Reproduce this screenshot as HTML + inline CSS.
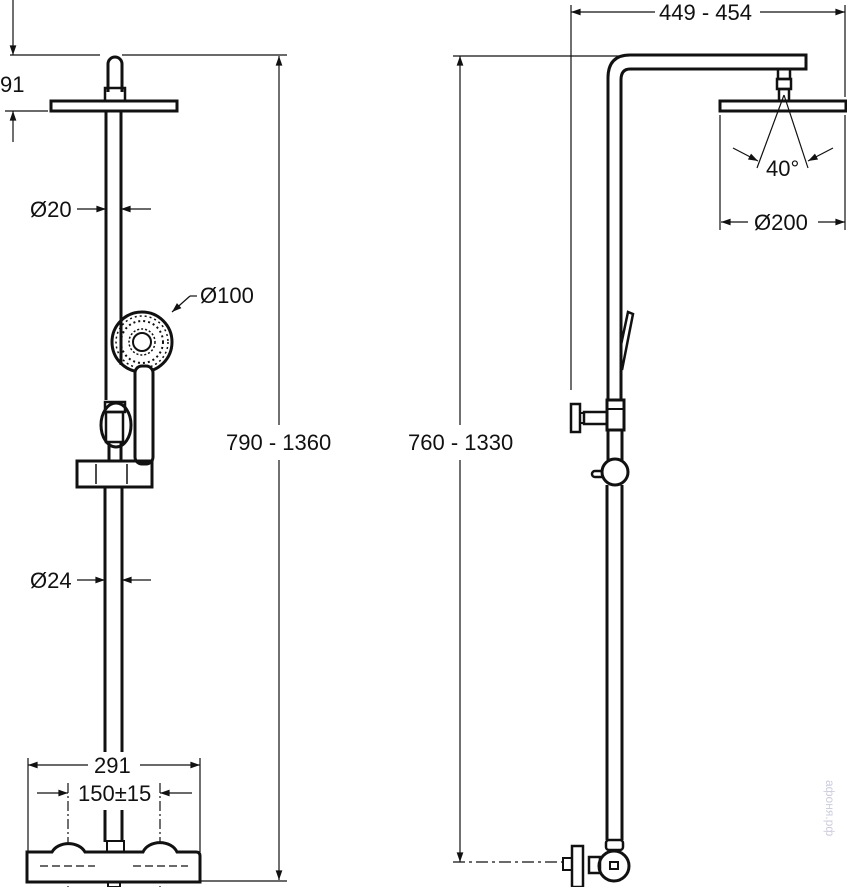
<!DOCTYPE html>
<html><head><meta charset="utf-8"><style>
html,body{margin:0;padding:0;background:#fff}
svg{display:block}
text{font-family:"Liberation Sans",Arial,sans-serif;font-size:22px;fill:#111}
</style></head><body>
<svg width="847" height="887" viewBox="0 0 847 887" xmlns="http://www.w3.org/2000/svg">
<defs>
<marker id="a" viewBox="0 0 10 10" refX="10" refY="5" markerWidth="11" markerHeight="8" orient="auto-start-reverse"><path d="M0,1.5 L10,5 L0,8.5 z" fill="#111"/></marker>
</defs>
<g stroke="#111" fill="none">
<line x1="10" y1="55" x2="100" y2="55" stroke-width="1.2"/>
<line x1="5" y1="111" x2="48" y2="111" stroke-width="1.2"/>
<line x1="13" y1="25" x2="13" y2="55" stroke-width="1.2" marker-end="url(#a)"/>
<line x1="13" y1="142" x2="13" y2="111" stroke-width="1.2" marker-end="url(#a)"/>
<line x1="13" y1="0" x2="13" y2="25" stroke-width="1.2"/>
<line x1="122" y1="55" x2="287" y2="55" stroke-width="1.2"/>
<line x1="279" y1="425" x2="279" y2="56" stroke-width="1.2" marker-end="url(#a)"/>
<line x1="279" y1="460" x2="279" y2="880" stroke-width="1.2" marker-end="url(#a)"/>
<line x1="128" y1="881" x2="287" y2="881" stroke-width="1.2"/>
<path d="M108,92 L108,64 A7,7 0 0 1 122,64 L122,92" stroke-width="3"/>
<rect x="105" y="88" width="20" height="13" stroke-width="2.5"/>
<rect x="51" y="101" width="126" height="10" stroke-width="3"/>
<line x1="106" y1="112" x2="106" y2="400" stroke-width="3"/>
<line x1="121" y1="112" x2="121" y2="365" stroke-width="3"/>
<line x1="77" y1="209" x2="106" y2="209" stroke-width="1.2" marker-end="url(#a)"/>
<line x1="151" y1="209" x2="121" y2="209" stroke-width="1.2" marker-end="url(#a)"/>
<circle cx="142" cy="342" r="30" stroke-width="3"/>
<circle cx="142" cy="342" r="9" stroke-width="2"/>
<circle cx="142" cy="342" r="13" stroke-width="1.5" stroke-dasharray="2 2"/>
<circle cx="142" cy="342" r="21" stroke-width="2" stroke-dasharray="2 3"/>
<circle cx="142" cy="342" r="26" stroke-width="1.5" stroke-dasharray="2 3"/>
<rect x="135" y="366" width="18" height="98" rx="7" stroke-width="3" fill="#fff"/>
<line x1="172" y1="312" x2="190" y2="296" stroke-width="1.2" marker-start="url(#a)"/>
<line x1="190" y1="296" x2="197" y2="296" stroke-width="1.2"/>
<ellipse cx="116" cy="425" rx="15" ry="22" stroke-width="3" fill="#fff"/>
<rect x="105" y="402" width="20" height="10" stroke-width="2.5"/>
<rect x="106" y="412" width="17" height="30" stroke-width="2.5"/>
<line x1="109" y1="442" x2="109" y2="462" stroke-width="3"/>
<line x1="121" y1="442" x2="121" y2="462" stroke-width="3"/>
<path d="M77,461 L152,461 L152,487 L77,487 Z" stroke-width="3"/>
<line x1="96" y1="464" x2="96" y2="484" stroke-width="1.5"/>
<line x1="127" y1="464" x2="127" y2="484" stroke-width="1.5"/>
<line x1="105" y1="488" x2="105" y2="752" stroke-width="3"/>
<line x1="122" y1="488" x2="122" y2="752" stroke-width="3"/>
<line x1="105" y1="810" x2="105" y2="842" stroke-width="3"/>
<line x1="122" y1="810" x2="122" y2="842" stroke-width="3"/>
<line x1="77" y1="580" x2="105" y2="580" stroke-width="1.2" marker-end="url(#a)"/>
<line x1="151" y1="580" x2="122" y2="580" stroke-width="1.2" marker-end="url(#a)"/>
<line x1="28" y1="758" x2="28" y2="852" stroke-width="1.2"/>
<line x1="200" y1="758" x2="200" y2="852" stroke-width="1.2"/>
<line x1="88" y1="765" x2="28" y2="765" stroke-width="1.2" marker-end="url(#a)"/>
<line x1="140" y1="765" x2="200" y2="765" stroke-width="1.2" marker-end="url(#a)"/>
<line x1="37" y1="793" x2="68" y2="793" stroke-width="1.2" marker-end="url(#a)"/>
<line x1="192" y1="793" x2="160" y2="793" stroke-width="1.2" marker-end="url(#a)"/>
<line x1="68" y1="783" x2="68" y2="887" stroke-width="1.2" stroke-dasharray="10 3 2 3"/>
<line x1="160" y1="783" x2="160" y2="887" stroke-width="1.2" stroke-dasharray="10 3 2 3"/>
<rect x="107" y="841" width="17" height="12" stroke-width="2"/>
<path d="M27,852 L52,852 A18,14 0 0 1 85,852 L143,852 A18,14 0 0 1 177,852 L196,852 Q200,852 200,856 L200,882 L27,882 Z" stroke-width="3" fill="#fff"/>
<line x1="40" y1="866" x2="95" y2="866" stroke-width="1.2" stroke-dasharray="8 4"/>
<line x1="133" y1="866" x2="188" y2="866" stroke-width="1.2" stroke-dasharray="8 4"/>
<rect x="108" y="882" width="12" height="5" stroke-width="2"/>

<line x1="571" y1="5" x2="571" y2="390" stroke-width="1.2"/>
<line x1="845" y1="5" x2="845" y2="97" stroke-width="1.2"/>
<line x1="655" y1="12" x2="571" y2="12" stroke-width="1.2" marker-end="url(#a)"/>
<line x1="760" y1="12" x2="845" y2="12" stroke-width="1.2" marker-end="url(#a)"/>
<line x1="453" y1="56" x2="622" y2="56" stroke-width="1.2"/>
<line x1="460" y1="425" x2="460" y2="56" stroke-width="1.2" marker-end="url(#a)"/>
<line x1="460" y1="460" x2="460" y2="862" stroke-width="1.2" marker-end="url(#a)"/>
<line x1="453" y1="862" x2="565" y2="862" stroke-width="1.2" stroke-dasharray="12 4 3 4"/>
<path d="M608,400 L608,78 Q608,55 630,55 L806,55 L806,69 L630,69 Q621,69 621,80 L621,400" stroke-width="3"/>
<rect x="778" y="69" width="12" height="10" stroke-width="2.5"/>
<rect x="777" y="79" width="14" height="10" stroke-width="2.5"/>
<rect x="779" y="89" width="10" height="12" stroke-width="2.5"/>
<rect x="720" y="101" width="126" height="10" stroke-width="3"/>
<line x1="720" y1="115" x2="720" y2="230" stroke-width="1.2"/>
<line x1="845" y1="115" x2="845" y2="230" stroke-width="1.2"/>
<line x1="784" y1="95" x2="757" y2="168" stroke-width="1.2"/>
<line x1="784" y1="95" x2="808" y2="168" stroke-width="1.2"/>
<line x1="733" y1="148" x2="758" y2="161" stroke-width="1.2" marker-end="url(#a)"/>
<line x1="833" y1="148" x2="808" y2="161" stroke-width="1.2" marker-end="url(#a)"/>
<line x1="748" y1="222" x2="721" y2="222" stroke-width="1.2" marker-end="url(#a)"/>
<line x1="818" y1="222" x2="845" y2="222" stroke-width="1.2" marker-end="url(#a)"/>
<path d="M621,345 L628,312 L633,314 L622,370" stroke-width="2.5"/>
<rect x="607" y="400" width="17" height="30" stroke-width="3" fill="#fff"/>
<line x1="607" y1="409" x2="624" y2="409" stroke-width="2"/>
<rect x="584" y="412" width="23" height="12" stroke-width="2.5"/>
<rect x="571" y="404" width="9" height="28" stroke-width="2.5"/>
<line x1="580" y1="413" x2="584" y2="413" stroke-width="2"/>
<line x1="580" y1="423" x2="584" y2="423" stroke-width="2"/>
<line x1="608" y1="430" x2="608" y2="460" stroke-width="3"/>
<line x1="622" y1="430" x2="622" y2="460" stroke-width="3"/>
<circle cx="615" cy="472" r="13" stroke-width="3" fill="#fff"/>
<path d="M602,471 L595,471 A3,3 0 0 0 595,477 L603,477" stroke-width="2.5"/>
<line x1="607" y1="485" x2="607" y2="840" stroke-width="3"/>
<line x1="622" y1="485" x2="622" y2="840" stroke-width="3"/>
<rect x="606" y="840" width="17" height="10" rx="3" stroke-width="2.5"/>
<circle cx="614" cy="866" r="15" stroke-width="3" fill="#fff"/>
<rect x="610" y="862" width="8" height="7" stroke-width="2"/>
<rect x="589" y="857" width="11" height="16" stroke-width="2.5"/>
<rect x="572" y="846" width="11" height="41" stroke-width="2.5"/>
<rect x="563" y="858" width="9" height="12" stroke-width="2"/>
</g>
<rect x="90" y="752" width="46" height="24" fill="#fff"/>
<rect x="76" y="780" width="78" height="26" fill="#fff"/>
<text x="0" y="92">91</text>
<text x="30" y="217">Ø20</text>
<text x="200" y="303">Ø100</text>
<text x="226" y="450">790 - 1360</text>
<text x="30" y="588">Ø24</text>
<text x="94" y="773">291</text>
<text x="78" y="801">150±15</text>
<text x="659" y="20">449 - 454</text>
<text x="766" y="176">40°</text>
<text x="754" y="230">Ø200</text>
<text x="408" y="450">760 - 1330</text>
<text transform="translate(826,780) rotate(90)" style="font-size:12px;fill:#ccd">афоня.рф</text>
</svg>
</body></html>
